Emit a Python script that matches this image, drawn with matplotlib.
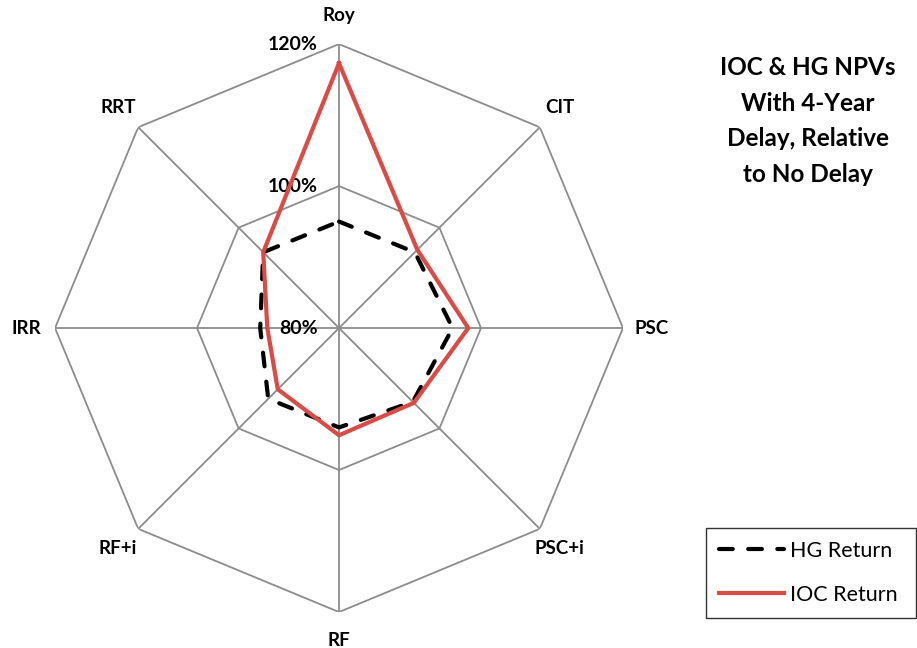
import numpy as np
import matplotlib
matplotlib.use("Agg")
from matplotlib import pyplot as plt
from matplotlib.lines import Line2D

# spokes, clockwise from the top
categories = ["Roy", "CIT", "PSC", "PSC+i", "RF", "RF+i", "IRR", "RRT"]
hg_return = [95.0, 95.1, 96.0, 94.7, 94.0, 94.1, 91.1, 95.1]
ioc_return = [117.3, 95.6, 98.2, 94.9, 95.1, 92.2, 90.1, 95.1]
ring_values = [80, 100, 120]
ring_labels = ["80%", "100%", "120%"]
title_text = "IOC & HG NPVs\nWith 4-Year\nDelay, Relative\nto No Delay"

font = "Lato"
red = "#DB4A44"
grid_grey = "#8C8C8C"

fig = plt.figure(figsize = (9.17, 6.48), dpi = 100)
ax = fig.add_axes([0.06, 0.0555, 0.6194, 0.8765], projection = "polar")
ax.set_theta_zero_location("N")
ax.set_theta_direction(-1)
ax.set_ylim(ring_values[0], ring_values[-1])
ax.grid(False)
ax.set_xticks([])
ax.set_yticks([])
ax.spines["polar"].set_visible(False)
ax.patch.set_alpha(0)

angles = np.linspace(0, 2 * np.pi, len(categories), endpoint = False)
closed = np.append(angles, angles[0])

# octagonal rings and spokes
for r in ring_values[1:]:
    ax.plot(closed, [r] * len(closed), color = grid_grey, lw = 1.3, zorder = 1)
for a in angles:
    ax.plot([a, a], [ring_values[0], ring_values[-1]], color = grid_grey, lw = 1.3, zorder = 1)

ax.plot(closed, hg_return + hg_return[:1], color = "black", lw = 3.0,
        dashes = (3.3, 3.7), dash_capstyle = "round", zorder = 3)
ax.plot(closed, ioc_return + ioc_return[:1], color = red, lw = 3.0, zorder = 4)

# spoke names
for a, name in zip(angles, categories):
    ax.text(a, 124.0, name, ha = "center", va = "center", fontsize = 13.5,
            fontweight = "bold", family = font)

# ring percent labels, left of the top spoke
for r, lab in zip(ring_values, ring_labels):
    ax.annotate(lab, xy = (0, r), xytext = (-21, 0), textcoords = "offset pixels",
                ha = "right", va = "center", fontsize = 14, fontweight = "bold",
                family = font)

fig.text(0.881, 0.8133, title_text, ha = "center", va = "center", fontsize = 17.5,
         fontweight = "bold", family = font, linespacing = 1.68)

handles = [Line2D([0], [0], color = "black", lw = 3.0, dashes = (3.3, 3.7),
                  dash_capstyle = "round"),
           Line2D([0], [0], color = red, lw = 3.0)]
leg = fig.legend(handles, ["HG Return", "IOC Return"], loc = "upper left",
                 bbox_to_anchor = (706 / 917, 1 - 528 / 648, 210 / 917, 0),
                 mode = "expand", borderaxespad = 0, frameon = True,
                 fancybox = False, edgecolor = "black", handlelength = 3.0,
                 handletextpad = 0.3, labelspacing = 1.1, borderpad = 0.6,
                 prop = {"family": font, "size": 15.5})
leg.get_frame().set_linewidth(1.0)

fig.savefig("out.png", dpi = 100)
